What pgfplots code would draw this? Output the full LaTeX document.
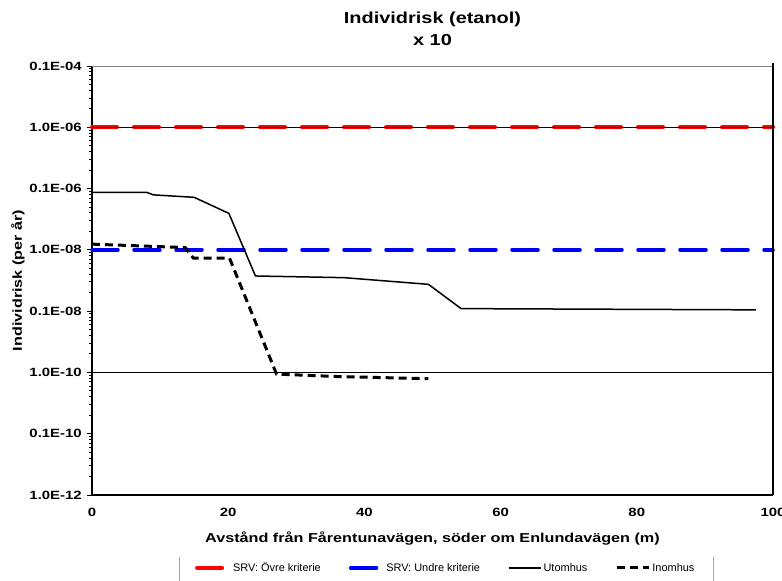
\documentclass[border=0pt]{standalone}
\usepackage{fontspec}
\setmainfont{Liberation Sans}[BoldFeatures={FakeStretch=1.25}]
\usepackage{pgfplots}
\pgfplotsset{compat=1.18}
\begin{document}
\begin{tikzpicture}
\useasboundingbox (-92bp,-86bp) rectangle (690bp,495bp);
\begin{axis}[
  at={(0,0)}, anchor=south west,
  width=681bp, height=429bp, scale only axis,
  xmin=0, xmax=100, ymin=1e-12, ymax=1e-5,
  ymode=log,
  axis lines*=left,
  axis line style={black, line width=1.6bp, -},
  xtick={0,20,40,60,80,100},
  xtick style={draw=none},
  ytick={1e-12,1e-11,1e-10,1e-9,1e-8,1e-7,1e-6,1e-5},
  yticklabels={1.0E-12,0.1E-10,1.0E-10,0.1E-08,1.0E-08,0.1E-06,1.0E-06,0.1E-04},
  ytick style={black, line width=1bp},
  tick align=outside,
  major tick length=5bp,
  minor ytick={},
  /pgf/number format/assume math mode=true,
  ticklabel style={font=\fontsize{12}{13}\selectfont\bfseries},
  yticklabel style={inner sep=0pt, xshift=-5bp},
  xticklabel style={inner sep=0pt, yshift=-8bp},
  title={Individrisk (etanol)\\x 10},
  title style={align=center, font=\fontsize{16}{22}\selectfont\bfseries, at={(0.5,1)}, anchor=south, inner sep=0pt, yshift=14bp},
  xlabel={Avstånd från Fårentunavägen, söder om Enlundavägen (m)},
  xlabel style={font=\fontsize{13}{15}\selectfont\bfseries, at={(axis description cs:0.5,0)}, anchor=center, yshift=-44bp},
  ylabel={Individrisk (per år)},
  every axis y label/.style={at={(axis description cs:-0.109,0.5)}, anchor=center, rotate=90, font=\fontsize{13}{15}\selectfont\bfseries},
  legend style={at={(axis description cs:0.5195,-0.170)}, anchor=center, draw=none,
    font=\fontsize{11}{12}\selectfont, legend columns=4,
    /tikz/every even column/.append style={column sep=26bp}},
  legend image code/.code={\draw[#1] (0bp,0bp) -- (32bp,0bp);},
  clip=false,
]
\addplot[red, line width=4bp, line cap=round, dash pattern=on 25bp off 17bp] coordinates {(0,1e-6) (100,1e-6)};
\addlegendentry{SRV: Övre kriterie}
\addplot[blue, line width=3.5bp, line cap=round, dash pattern=on 26bp off 16bp] coordinates {(0,1e-8) (100,1e-8)};
\addlegendentry{SRV: Undre kriterie}
\addplot[black, line width=1.5bp] coordinates {
(0,8.7e-8) (8,8.7e-8) (9,7.9e-8) (15,7.2e-8) (20.1,3.94e-8) (24,3.75e-9) (37,3.52e-9) (49.4,2.74e-9) (54.2,1.1e-9) (97.5,1.05e-9)};
\addlegendentry{Utomhus}
\addplot[black, line width=3bp, dash pattern=on 8bp off 5bp] coordinates {
(0,1.24e-8) (13.7,1.09e-8) (14.9,7.3e-9) (20.2,7.3e-9) (27.1,9.4e-11) (35.6,8.6e-11) (49.4,7.9e-11)};
\addlegendentry{Inomhus}
\draw[black, line width=0.8bp] (axis cs:0,1e-6) -- (axis cs:100,1e-6);
\draw[black, line width=0.8bp] (axis cs:0,1e-10) -- (axis cs:100,1e-10);
\draw[gray, line width=1bp] (axis cs:0,1e-5) -- (axis cs:100,1e-5);
\draw[black, line width=2bp] (axis cs:100,1e-12) -- (axis cs:100,1.1e-5);
\end{axis}
\draw[gray!70, line width=0.8bp] (87bp,-62bp) -- (87bp,-95bp);
\draw[gray!70, line width=0.8bp] (621bp,-62bp) -- (621bp,-95bp);
\end{tikzpicture}
\end{document}
